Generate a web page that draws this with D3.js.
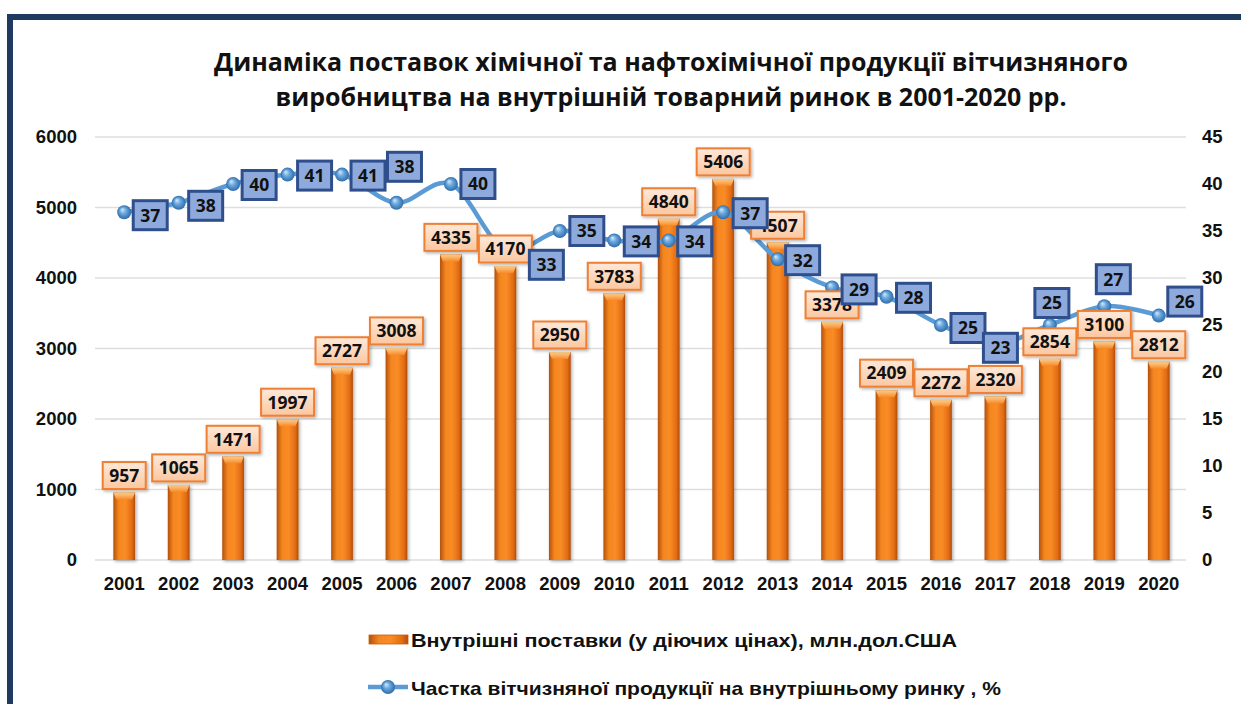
<!DOCTYPE html>
<html>
<head>
<meta charset="utf-8">
<script src="https://cdn.jsdelivr.net/npm/d3@7"></script>
<style>
    html, body { margin: 0; padding: 0; background: #fff; }
    svg { display: block; }
</style>
</head>
<body>
<svg id="chart"></svg>
<script>
// дані з діаграми
const years = ['2001','2002','2003','2004','2005','2006','2007','2008','2009','2010',
               '2011','2012','2013','2014','2015','2016','2017','2018','2019','2020'];
const supplies = [957, 1065, 1471, 1997, 2727, 3008, 4335, 4170, 2950, 3783,
                  4840, 5406, 4507, 3378, 2409, 2272, 2320, 2854, 3100, 2812];
const shares = [37, 38, 40, 41, 41, 38, 40, 33, 35, 34,
                34, 37, 32, 29, 28, 25, 23, 25, 27, 26];
const leftTicks = [0, 1000, 2000, 3000, 4000, 5000, 6000];
const rightTicks = [0, 5, 10, 15, 20, 25, 30, 35, 40, 45];
const titleLines = ['Динаміка поставок хімічної та нафтохімічної продукції вітчизняного',
                    'виробництва на внутрішній товарний ринок в 2001-2020 рр.'];
const legendNames = ['Внутрішні поставки (у діючих цінах), млн.дол.США',
                     'Частка вітчизняної продукції на внутрішньому ринку , %'];

// зсуви підписів лінії (вручну переставлені в оригіналі)
const labelNudge = [[26,3],[27,3],[26,1],[27,1],[26,1],[8,-36],[27,0],[41,15],[27,0],[27,1],
                    [26,1],[27,1],[25,1],[27,2],[27,1],[27,3],[5,4],[2,-22],[9,-27],[26,-14]];

class ComboChart{
    constructor(config){
        this.config = {
            parent: config.parent || '#chart',
            width: config.width || 1241,
            height: config.height || 704,
            left: 97, right: 1186, top: 137, bottom: 560
        };
        this.init();
    }

    init(){
        const c = this.config;
        this.svg = d3.select(c.parent)
            .attr('width', c.width)
            .attr('height', c.height);

        this.x = d3.scaleBand().domain(years).range([c.left, c.right]).paddingInner(0.6).paddingOuter(0.3);
        this.yL = d3.scaleLinear().domain([0, 6000]).range([c.bottom, c.top]);
        this.yR = d3.scaleLinear().domain([0, 45]).range([c.bottom, c.top]);

        const defs = this.svg.append('defs');
        const barGrad = defs.append('linearGradient').attr('id', 'barGrad');
        [['0%','#b4500c'],['25%','#f5861f'],['55%','#f98c26'],['85%','#e26c14'],['100%','#b14d0b']]
            .forEach(s => barGrad.append('stop').attr('offset', s[0]).attr('stop-color', s[1]));
        const capGrad = defs.append('linearGradient').attr('id', 'capGrad')
            .attr('x1', 0).attr('y1', 0).attr('x2', 0).attr('y2', 1);
        [['0%','#ffd28f'],['100%','#f7892a']]
            .forEach(s => capGrad.append('stop').attr('offset', s[0]).attr('stop-color', s[1]));
        const boxGrad = defs.append('linearGradient').attr('id', 'boxGrad')
            .attr('x1', 0).attr('y1', 0).attr('x2', 0).attr('y2', 1);
        [['0%','#fee9da'],['100%','#fbc7a0']]
            .forEach(s => boxGrad.append('stop').attr('offset', s[0]).attr('stop-color', s[1]));
        const ball = defs.append('radialGradient').attr('id', 'ball')
            .attr('fx', '35%').attr('fy', '30%');
        [['0%','#d7ebfb'],['45%','#6aa8de'],['100%','#2f6cab']]
            .forEach(s => ball.append('stop').attr('offset', s[0]).attr('stop-color', s[1]));
        const sh = defs.append('filter').attr('id', 'shadow')
            .attr('x', '-30%').attr('y', '-30%').attr('width', '160%').attr('height', '160%');
        sh.append('feDropShadow').attr('dx', 1.5).attr('dy', 1.5).attr('stdDeviation', 1.5)
            .attr('flood-color', '#000').attr('flood-opacity', 0.3);

        this.render();
    }

    render(){
        const c = this.config, svg = this.svg, x = this.x, yL = this.yL, yR = this.yR;
        const cx = d => x(d) + x.bandwidth() / 2;

        // рамка
        svg.append('path')
            .attr('d', `M10,${c.height + 10} L10,17 L${c.width + 10},17`)
            .attr('fill', 'none').attr('stroke', '#1f3a60').attr('stroke-width', 6);

        // заголовок
        svg.append('g').selectAll('text').data(titleLines).join('text')
            .attr('x', 671).attr('y', (d, i) => 71 + i * 35)
            .attr('text-anchor', 'middle')
            .style('font', 'bold 25px "Open Sans", sans-serif')
            .attr('fill', '#111')
            .text(d => d);

        // сітка
        svg.append('g').selectAll('line').data(leftTicks).join('line')
            .attr('x1', c.left - 2).attr('x2', c.right)
            .attr('y1', d => yL(d)).attr('y2', d => yL(d))
            .attr('stroke', '#dedede').attr('stroke-width', 1.5);

        // осі
        const axisL = svg.append('g').attr('transform', 'translate(77,0)')
            .call(d3.axisLeft(yL).tickValues(leftTicks).tickFormat(d3.format('d')).tickSize(0).tickPadding(0));
        const axisR = svg.append('g').attr('transform', 'translate(1202,0)')
            .call(d3.axisRight(yR).tickValues(rightTicks).tickSize(0).tickPadding(0));
        const axisB = svg.append('g').attr('transform', `translate(0,${c.bottom + 13})`)
            .call(d3.axisBottom(x).tickSize(0).tickPadding(0));
        [axisL, axisR, axisB].forEach(a => {
            a.select('.domain').remove();
            a.selectAll('text').style('font', 'bold 18.5px "Liberation Sans", Arial, sans-serif').attr('fill', '#111');
        });
        axisB.selectAll('text').attr('dy', '0.9em');

        // стовпці
        const bars = svg.append('g').selectAll('g').data(supplies).join('g');
        bars.append('rect')
            .attr('x', (d, i) => x(years[i])).attr('width', x.bandwidth())
            .attr('y', d => yL(d)).attr('height', d => yL(0) - yL(d))
            .attr('fill', 'url(#barGrad)').attr('filter', 'url(#shadow)');
        bars.append('path')
            .attr('d', (d, i) => {
                const x0 = x(years[i]), w = x.bandwidth(), t = yL(d);
                return `M${x0},${t} L${x0 + w},${t} L${x0 + w - 3},${t + 7} L${x0 + 3},${t + 7} Z`;
            })
            .attr('fill', 'url(#capGrad)');

        // лінія
        const line = d3.line()
            .x((d, i) => cx(years[i]))
            .y(d => yR(d))
            .curve(d3.curveCardinal);
        svg.append('path').datum(shares)
            .attr('d', line)
            .attr('fill', 'none').attr('stroke', '#5b9bd5').attr('stroke-width', 4.5)
            .attr('stroke-linejoin', 'round');
        svg.append('g').selectAll('circle').data(shares).join('circle')
            .attr('cx', (d, i) => cx(years[i])).attr('cy', d => yR(d)).attr('r', 7)
            .attr('fill', 'url(#ball)');

        // підписи стовпців
        const boxW = d => String(d).length * 10 + 13;
        const bl = svg.append('g').selectAll('g').data(supplies).join('g')
            .attr('transform', (d, i) => `translate(${cx(years[i])},${yL(d) - 17})`);
        bl.append('rect')
            .attr('x', d => -boxW(d) / 2).attr('y', -13.5)
            .attr('width', boxW).attr('height', 27)
            .attr('fill', 'url(#boxGrad)').attr('stroke', '#ef7f33').attr('stroke-width', 2)
            .attr('filter', 'url(#shadow)');
        bl.append('text')
            .attr('text-anchor', 'middle').attr('dy', '0.36em')
            .style('font', 'bold 17.5px "Open Sans", sans-serif').attr('fill', '#111')
            .text(d => d);

        // підписи лінії
        const ll = svg.append('g').selectAll('g').data(shares).join('g')
            .attr('transform', (d, i) => `translate(${cx(years[i]) + labelNudge[i][0]},${yR(d) + labelNudge[i][1]})`);
        ll.append('rect')
            .attr('x', -17).attr('y', -14.5).attr('width', 34).attr('height', 29)
            .attr('fill', '#8eaadc').attr('stroke', '#2f4f8c').attr('stroke-width', 3);
        ll.append('text')
            .attr('text-anchor', 'middle').attr('dy', '0.36em')
            .style('font', 'bold 17.5px "Open Sans", sans-serif').attr('fill', '#111')
            .text(d => d);

        // легенда
        const lg = svg.append('g');
        lg.append('rect').attr('x', 369).attr('y', 635).attr('width', 39).attr('height', 9)
            .attr('fill', 'url(#barGrad)').attr('stroke', '#c4600f').attr('stroke-width', 0.8);
        lg.append('line').attr('x1', 368).attr('x2', 408).attr('y1', 687).attr('y2', 687)
            .attr('stroke', '#5b9bd5').attr('stroke-width', 4.5);
        lg.append('circle').attr('cx', 388).attr('cy', 687).attr('r', 7).attr('fill', 'url(#ball)');
        lg.selectAll('text').data(legendNames).join('text')
            .attr('x', 411).attr('y', (d, i) => 647 + i * 48)
            .attr('textLength', (d, i) => i === 0 ? 546 : 590)
            .attr('lengthAdjust', 'spacingAndGlyphs')
            .style('font', 'bold 19px "Liberation Sans", Arial, sans-serif').attr('fill', '#111')
            .text(d => d);
    }
}

const chart = new ComboChart({parent: '#chart'});
</script>
</body>
</html>
